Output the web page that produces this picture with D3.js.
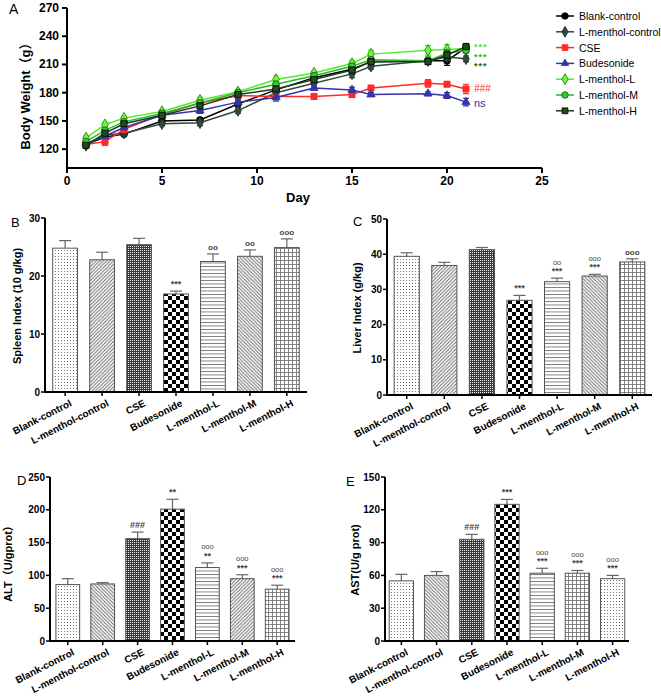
<!DOCTYPE html>
<html><head><meta charset="utf-8">
<script src="https://cdn.jsdelivr.net/npm/d3@7"></script>
<style>body{margin:0;background:#fff}svg{font-family:"Liberation Sans",Arial,"Noto Sans CJK SC",sans-serif}</style>
</head><body><svg id="c" width="661" height="698"></svg>
<script>
// ---------- DATA ----------
const days = [1,2,3,5,7,9,11,13,15,16,19,20,21];
const seriesNames = ["Blank-control","L-menthol-control","CSE","Budesonide","L-menthol-L","L-menthol-M","L-menthol-H"];
const wBlank   = [125,133,136,150,151,168,183,196,205,213,214,214,228];
const wCtrl    = [124,135,137,147,148,161,180,190,200,208,214,218,216];
const wCSE     = [125,128,141,157,169,177,176,176,178,185,190,189,184];
const wBud     = [126,134,143,156,161,170,175,185,183,178,179,177,170];
const wL       = [132,146,153,160,172,181,194,201,211,221,225,226,227];
const wM       = [128,140,149,158,169,180,189,198,208,215,214,222,225];
const wH       = [124,137,147,156,166,178,184,194,204,213,213,220,229];
const eBlank   = [2,2,2,2,2,3,3,2,3,3,3,5,3];
const eCtrl    = [2,2,2,2,3,3,3,3,4,3,3,4,3];
const eCSE     = [2,4,2,2,2,2,2,3,3,2,4,2,5];
const eBud     = [2,2,2,2,3,3,4,2,3,2,2,3,4];
const eL       = [2,2,2,2,3,2,4,2,3,4,5,5,4];
const eM       = [2,2,2,2,3,2,3,2,2,3,4,4,3];
const eH       = [2,2,2,2,3,2,3,2,3,3,3,4,3];
const weightTicksY = [120,150,180,210,240,270];
const dayTicks = [0,5,10,15,20,25];
const weightSig = ["***","***","***","###","ns"];

const groups = ["Blank-control","L-menthol-control","CSE","Budesonide","L-menthol-L","L-menthol-M","L-menthol-H"];
const spleenIndex = [24.8,22.8,25.4,16.9,22.5,23.4,24.9];
const spleenErr   = [1.3,1.3,1.1,0.5,1.3,1.1,1.5];
const spleenSig1  = ["","","","***","oo","oo","ooo"];
const spleenSig2  = ["","","","","","",""];
const spleenTicks = [0,10,20,30];
const liverIndex  = [39.4,36.8,41.3,26.9,32.2,33.8,37.8];
const liverErr    = [1.0,0.9,0.6,1.4,1.0,0.5,0.9];
const liverSig1   = ["","","","***","***","***","ooo"];
const liverSig2   = ["","","","","oo","ooo",""];
const liverTicks  = [0,10,20,30,40,50];
const altValues   = [86,87,156,201,112,95,79];
const altErr      = [9,2,10,15,7,6,6];
const altSig1     = ["","","###","**","**","***","***"];
const altSig2     = ["","","","","ooo","ooo","ooo"];
const altTicks    = [0,50,100,150,200,250];
const astValues   = [55,60,93,125,62,62,57];
const astErr      = [6,3.5,4.5,4.5,4.5,2.5,3];
const astSig1     = ["","","###","***","***","***","***"];
const astSig2     = ["","","","","ooo","ooo","ooo"];
const astTicks    = [0,30,60,90,120,150];

// ---------- SETUP ----------
const svg = d3.select("#c");
const defs = svg.append("defs");
function pat(id,w,h,draw,bg="#fff"){
  const p = defs.append("pattern").attr("id",id).attr("patternUnits","userSpaceOnUse").attr("width",w).attr("height",h);
  p.append("rect").attr("width",w).attr("height",h).attr("fill",bg);
  draw(p);
}
pat("dots",3,3,p=>p.append("rect").attr("x",1).attr("y",1).attr("width",1).attr("height",1).attr("fill","#777"));
pat("diagUp",3.5,3.5,p=>{p.append("path").attr("d","M-1,1 L1,-1 M0,3.5 L3.5,0 M2.5,4.5 L4.5,2.5").attr("stroke","#666").attr("stroke-width",0.9);});
pat("diagDown",3.5,3.5,p=>{p.append("path").attr("d","M-1,2.5 L1,4.5 M0,0 L3.5,3.5 M2.5,-1 L4.5,1").attr("stroke","#666").attr("stroke-width",0.9);});
pat("dark",2,2,p=>{p.append("rect").attr("width",1).attr("height",1).attr("fill","#eee");},"#3a3a3a");
pat("checker",8,8,p=>{p.append("rect").attr("width",4).attr("height",4).attr("fill","#000");p.append("rect").attr("x",4).attr("y",4).attr("width",4).attr("height",4).attr("fill","#000");});
pat("horiz",3.5,3.5,p=>p.append("rect").attr("y",0).attr("width",3.5).attr("height",0.9).attr("fill","#777"));
pat("grid",4,4,p=>{p.append("rect").attr("width",4).attr("height",0.9).attr("fill","#777");p.append("rect").attr("width",0.9).attr("height",4).attr("fill","#777");});

// ---------- PANEL A ----------
const xA = d3.scaleLinear().domain([0,25]).range([67,542]);
const yA = d3.scaleLinear().domain([100,270]).range([168,8]);
const gA = svg.append("g");
const styles = [
  {line:"#000",fill:"#000",stroke:"#000",sym:d3.symbolCircle},
  {line:"#2e4a3a",fill:"#2e4a3a",stroke:"#1b2b22",sym:d3.symbolDiamond},
  {line:"#ff2a2a",fill:"#ff2a2a",stroke:"#ff2a2a",sym:d3.symbolSquare},
  {line:"#3434a8",fill:"#3434a8",stroke:"#3434a8",sym:d3.symbolTriangle},
  {line:"#4cf024",fill:"#66ff33",stroke:"#2a6a10",sym:d3.symbolDiamond},
  {line:"#2fb52f",fill:"#33cc33",stroke:"#1a4a1a",sym:d3.symbolCircle},
  {line:"#1d3d1d",fill:"#1e4d1e",stroke:"#000",sym:d3.symbolSquare}
];
const wSeries = [wBlank,wCtrl,wCSE,wBud,wL,wM,wH];
const eSeries = [eBlank,eCtrl,eCSE,eBud,eL,eM,eH];
const line = d3.line().x(d=>xA(d[0])).y(d=>yA(d[1]));
wSeries.forEach((vals,i)=>{
  const st = styles[i];
  const pts = days.map((d,j)=>[d,vals[j],eSeries[i][j]]);
  const g = gA.append("g");
  g.append("path").attr("d",line(pts)).attr("fill","none").attr("stroke",st.line).attr("stroke-width",1.5);
  pts.forEach(p=>{
    const cx=xA(p[0]);
    g.append("path").attr("d",`M${cx},${yA(p[1]-p[2])}V${yA(p[1]+p[2])}M${cx-3},${yA(p[1]+p[2])}H${cx+3}M${cx-3},${yA(p[1]-p[2])}H${cx+3}`).attr("stroke",st.line).attr("stroke-width",1.2).attr("fill","none");
  });
  g.selectAll(".m").data(pts).join("path").attr("transform",p=>`translate(${xA(p[0])},${yA(p[1])})`)
    .attr("d",d3.symbol().type(st.sym).size(st.sym===d3.symbolTriangle?30:38)).attr("fill",st.fill).attr("stroke",st.stroke).attr("stroke-width",0.8);
});
// axes A
gA.append("line").attr("x1",67).attr("x2",67).attr("y1",8).attr("y2",168).attr("stroke","#000").attr("stroke-width",2);
gA.append("line").attr("x1",66).attr("x2",542).attr("y1",168).attr("y2",168).attr("stroke","#000").attr("stroke-width",2);
weightTicksY.forEach(t=>{
  gA.append("line").attr("x1",62).attr("x2",67).attr("y1",yA(t)).attr("y2",yA(t)).attr("stroke","#000").attr("stroke-width",2);
  gA.append("text").attr("x",59).attr("y",yA(t)+4).attr("text-anchor","end").attr("font-size",12).attr("font-weight","bold").text(t);
});
dayTicks.forEach(t=>{
  gA.append("line").attr("x1",xA(t)).attr("x2",xA(t)).attr("y1",168).attr("y2",173).attr("stroke","#000").attr("stroke-width",2);
  gA.append("text").attr("x",xA(t)).attr("y",185).attr("text-anchor","middle").attr("font-size",12).attr("font-weight","bold").text(t);
});
gA.append("text").attr("x",298).attr("y",202).attr("text-anchor","middle").attr("font-size",13).attr("font-weight","bold").text("Day");
gA.append("text").attr("transform","translate(30,93) rotate(-90)").attr("text-anchor","middle").attr("font-size",13).attr("font-weight","bold").text("Body Weight（g）");
gA.append("text").attr("x",9).attr("y",14).attr("font-size",14).text("A");
// annotations A
const sigCols = ["#44ee22","#22bb22","#2b5e2b","#ff2a2a","#3434a8"];
const sigY = [50,59.5,69,92,107];
weightSig.forEach((s,i)=>{
  gA.append("text").attr("x",474).attr("y",sigY[i]).attr("font-size",s==="***"?9:(s==="ns"?11:10)).attr("font-weight",s==="***"?"bold":"normal")
    .attr("letter-spacing",s==="***"?1:0)
    .attr("font-style",s==="###"?"italic":"normal").attr("fill",sigCols[i]).text(s);
});
// legend
seriesNames.forEach((n,i)=>{
  const st=styles[i], y=16+i*15.8;
  svg.append("line").attr("x1",556).attr("x2",574).attr("y1",y).attr("y2",y).attr("stroke",st.line).attr("stroke-width",1.5);
  svg.append("path").attr("transform",`translate(565,${y})`).attr("d",d3.symbol().type(st.sym).size(st.sym===d3.symbolTriangle?25:34)).attr("fill",st.fill).attr("stroke",st.stroke).attr("stroke-width",0.8);
  svg.append("text").attr("x",579).attr("y",y+4).attr("font-size",10.5).text(n);
});

// ---------- BAR PANELS ----------
function barPanel(c){
  const g = svg.append("g");
  const x = d3.scaleBand().domain(groups).range([c.x0,c.x1]).paddingInner(c.pi).paddingOuter(c.po);
  const y = d3.scaleLinear().domain([0,c.max]).range([c.y0,c.yTop]);
  groups.forEach((gr,i)=>{
    const bx=x(gr), bw=x.bandwidth(), cx=bx+bw/2, v=c.vals[i], e=c.errs[i];
    g.append("line").attr("x1",cx).attr("x2",cx).attr("y1",y(v)+6).attr("y2",y(v+e)).attr("stroke","#666").attr("stroke-width",1.2);
    g.append("line").attr("x1",cx-6).attr("x2",cx+6).attr("y1",y(v+e)).attr("y2",y(v+e)).attr("stroke","#666").attr("stroke-width",1.2);
    g.append("rect").attr("x",bx).attr("y",y(v)).attr("width",bw).attr("height",c.y0-y(v)).attr("fill",`url(#${c.pats[i]})`).attr("stroke","#555").attr("stroke-width",1);
    if(c.s1[i]) g.append("text").attr("x",cx).attr("y",y(v+e)-4).attr("text-anchor","middle").attr("font-size",c.s1[i].startsWith("o")?8:9).attr("font-weight","bold").attr("fill","#444").text(c.s1[i]);
    if(c.s2[i]) g.append("text").attr("x",cx).attr("y",y(v+e)-13.5).attr("text-anchor","middle").attr("font-size",7.5).attr("fill","#444").text(c.s2[i]);
    g.append("line").attr("x1",cx).attr("x2",cx).attr("y1",c.y0).attr("y2",c.y0+4).attr("stroke","#000").attr("stroke-width",1.5);
    g.append("text").attr("transform",`translate(${cx+4},${c.y0+7}) rotate(-27)`).attr("text-anchor","end").attr("dy","0.72em")
      .attr("font-size",10).attr("font-weight","bold").text(gr);
  });
  g.append("line").attr("x1",c.x0).attr("x2",c.x0).attr("y1",c.yTop).attr("y2",c.y0+1).attr("stroke","#000").attr("stroke-width",2);
  g.append("line").attr("x1",c.x0-1).attr("x2",c.x1).attr("y1",c.y0).attr("y2",c.y0).attr("stroke","#000").attr("stroke-width",2);
  c.ticks.forEach(t=>{
    g.append("line").attr("x1",c.x0-4).attr("x2",c.x0).attr("y1",y(t)).attr("y2",y(t)).attr("stroke","#000").attr("stroke-width",1.5);
    g.append("text").attr("x",c.x0-5).attr("y",y(t)+3.5).attr("text-anchor","end").attr("font-size",10).attr("font-weight","bold").text(t);
  });
  g.append("text").attr("transform",`translate(${c.tx},${c.ty}) rotate(-90)`).attr("text-anchor","middle").attr("font-size",11).attr("font-weight","bold").text(c.title);
  g.append("text").attr("x",c.lx).attr("y",c.ly).attr("font-size",13).text(c.letter);
}
barPanel({x0:45,x1:307,y0:392,yTop:218,max:30,pi:0.33,po:0.21,vals:spleenIndex,errs:spleenErr,s1:spleenSig1,s2:spleenSig2,ticks:spleenTicks,
  pats:["dots","diagUp","dark","checker","horiz","diagDown","grid"],title:"Spleen Index (10 g/kg)",tx:21,ty:306,letter:"B",lx:11,ly:227});
barPanel({x0:387,x1:652,y0:395,yTop:219,max:50,pi:0.33,po:0.19,vals:liverIndex,errs:liverErr,s1:liverSig1,s2:liverSig2,ticks:liverTicks,
  pats:["dots","diagUp","dark","checker","horiz","diagDown","grid"],title:"Liver Index (g/kg)",tx:361,ty:308,letter:"C",lx:353,ly:226});
barPanel({x0:50,x1:295,y0:641,yTop:477,max:250,pi:0.32,po:0.17,vals:altValues,errs:altErr,s1:altSig1,s2:altSig2,ticks:altTicks,
  pats:["dots","diagDown","dark","checker","horiz","diagUp","grid"],title:"ALT（U/gprot）",tx:12,ty:561,letter:"D",lx:17,ly:485});
barPanel({x0:385,x1:629,y0:641,yTop:477,max:150,pi:0.31,po:0.12,vals:astValues,errs:astErr,s1:astSig1,s2:astSig2,ticks:astTicks,
  pats:["dots","diagDown","dark","checker","horiz","grid","dots"],title:"AST(U/g prot)",tx:359,ty:560,letter:"E",lx:346,ly:486});
</script></body></html>
